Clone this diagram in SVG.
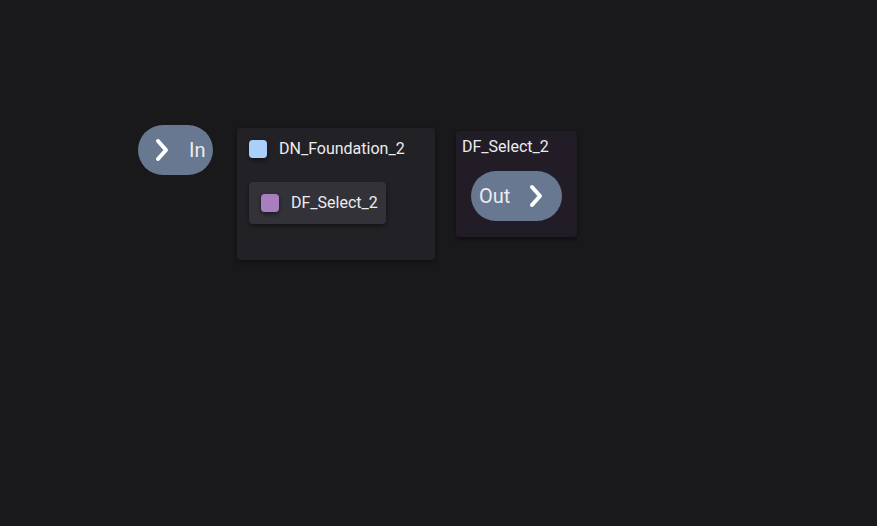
<svg xmlns="http://www.w3.org/2000/svg" width="877" height="526" viewBox="0 0 877 526">
<defs>
<filter id="sh" x="-20%" y="-20%" width="140%" height="150%"><feDropShadow dx="0" dy="2" stdDeviation="2.5" flood-color="#000" flood-opacity="0.5"/></filter>
<style>
.t{font-family:Roboto,"Liberation Sans",sans-serif;fill:#ececf0}
.pill{fill:#687891}
.chev{fill:none;stroke:#fff;stroke-width:4;stroke-linecap:round;stroke-linejoin:round}
</style>
</defs>
<rect width="877" height="526" fill="#19191b"/>
<g id="connectors"></g>
<g id="in">
<rect class="pill" x="138" y="125" width="75" height="50" rx="25"/>
<path class="chev" d="M158 141 L166 150 L158 159"/>
<text class="t" x="189" y="157" font-size="20">In</text>
</g>
<g id="dn_foundation_2">
<rect x="237" y="128" width="198" height="132" rx="4" fill="#222227" filter="url(#sh)"/>
<rect x="249" y="140" width="18" height="18" rx="4" fill="#abcffb" filter="url(#sh)"/>
<text class="t" x="279" y="154" font-size="16">DN_Foundation_2</text>
<g id="df_select_2_inner">
<rect x="249" y="182" width="137" height="42" rx="4" fill="#323238" filter="url(#sh)"/>
<rect x="261" y="194" width="18" height="18" rx="4" fill="#a87ebf" filter="url(#sh)"/>
<text class="t" x="291" y="208" font-size="16">DF_Select_2</text>
</g>
</g>
<g id="df_select_2">
<rect x="456" y="131" width="121" height="106" rx="4" fill="#211c25" filter="url(#sh)"/>
<text class="t" x="462" y="152" font-size="16">DF_Select_2</text>
<rect class="pill" x="471" y="171" width="91" height="50" rx="25"/>
<text class="t" x="479" y="203" font-size="20">Out</text>
<path class="chev" d="M532 187 L540 196 L532 205"/>
</g>
</svg>
